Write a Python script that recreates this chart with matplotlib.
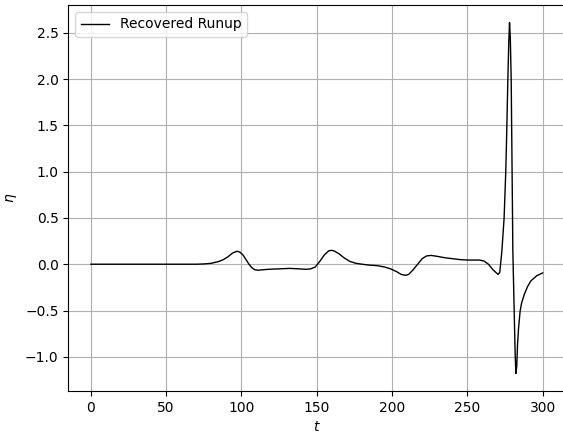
import matplotlib
matplotlib.use("Agg")
import matplotlib.pyplot as plt

# Recovered runup time series
t = [0, 10, 20, 30, 40, 50, 60, 70, 75, 80, 85, 88, 91, 94, 97, 99, 101, 103,
     105, 107, 109, 111, 114, 118, 125, 132, 138, 143, 146, 149, 152, 155, 158,
     160, 162, 165, 168, 172, 176, 180, 185, 190, 195, 199, 203, 206, 209, 211,
     214, 217, 220, 223, 226, 230, 235, 240, 245, 250, 255, 258, 261, 264, 267,
     270.4, 271.5, 272.9, 274.4, 275.5, 276.0, 276.9, 277.5, 278.0, 278.5,
     279.1, 279.7, 280.2, 281.1, 281.7, 282.2, 282.8, 283.3, 284.0, 285.0,
     286.0, 287.7, 290.0, 292.2, 296.0, 300.0]
eta = [0.0, 0.0, 0.0, 0.0, 0.0, 0.0, 0.0, 0.0, 0.003, 0.01, 0.03, 0.05, 0.08,
       0.12, 0.14, 0.13, 0.10, 0.05, 0.0, -0.04, -0.06, -0.065, -0.06, -0.055,
       -0.05, -0.045, -0.05, -0.055, -0.05, -0.03, 0.03, 0.10, 0.145, 0.15, 0.14,
       0.11, 0.07, 0.03, 0.01, 0.0, -0.01, -0.015, -0.03, -0.05, -0.08, -0.11,
       -0.12, -0.11, -0.06, 0.0, 0.06, 0.09, 0.095, 0.085, 0.07, 0.06, 0.05,
       0.045, 0.045, 0.045, 0.035, 0.0, -0.06,
       -0.11, -0.09, 0.14, 0.5, 1.0, 1.33, 2.0, 2.4, 2.61, 2.45,
       2.0, 1.0, 0.14, -0.51, -0.95, -1.18, -1.1, -0.87, -0.69, -0.51,
       -0.42, -0.33, -0.24, -0.18, -0.125, -0.094]

fig, ax = plt.subplots(figsize=(5.63, 4.34), dpi=100)
fig.subplots_adjust(left=0.1213, right=1.004, bottom=0.099, top=0.9885)
ax.plot(t, eta, color="k", lw=1.0, label="Recovered Runup")
ax.set_xlabel("$t$")
ax.set_ylabel(r"$\eta$")
ax.grid(True)
ax.legend(loc="upper left")
fig.savefig("out.png", dpi=100)
